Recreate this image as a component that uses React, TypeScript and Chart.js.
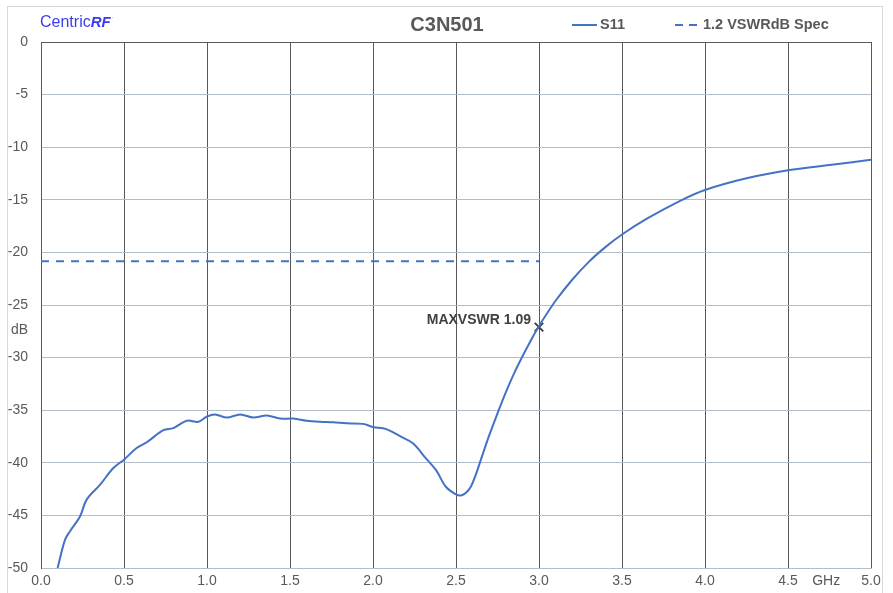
import React, { useEffect, useRef } from "react";
import { Chart, registerables } from "chart.js";

Chart.register(...registerables);

const TITLE = "C3N501";
const S11_LABEL = "S11";
const SPEC_LABEL = "1.2 VSWRdB Spec";
const MARK_LABEL = "MAXVSWR 1.09";
const Y_TITLE = "dB";
const X_TITLE = "GHz";
const X_TITLE_AT = 4.73;

const freqGHz = [
  0.1, 0.145, 0.175, 0.235, 0.275, 0.355, 0.436, 0.5, 0.576, 0.637, 0.737, 0.797,
  0.878, 0.948, 1.0, 1.048, 1.12, 1.2, 1.28, 1.36, 1.44, 1.52, 1.6, 1.68, 1.76,
  1.84, 1.94, 2.0, 2.08, 2.16, 2.24, 2.32, 2.38, 2.44, 2.5, 2.53, 2.56, 2.59, 2.62,
  2.65, 2.7, 2.75, 2.8, 2.85, 2.9, 2.95, 3.0, 3.1, 3.2, 3.3, 3.4, 3.5, 3.65, 3.85,
  4.0, 4.25, 4.5, 4.75, 5.0,
];
const s11dB = [
  -50.0, -47.3, -46.5, -45.1, -43.5, -42.1, -40.5, -39.7, -38.6, -38.05, -36.9, -36.7,
  -36.0, -36.1, -35.6, -35.4, -35.7, -35.4, -35.7, -35.5, -35.8, -35.8, -36.0, -36.1, -36.15,
  -36.25, -36.3, -36.6, -36.8, -37.45, -38.15, -39.6, -40.7, -42.3, -43.0, -43.1, -42.85, -42.25, -41.1,
  -39.7, -37.4, -35.3, -33.3, -31.5, -29.9, -28.4, -27.0, -24.6, -22.6, -20.9, -19.5, -18.3, -16.8, -15.1,
  -14.07, -12.96, -12.2, -11.7, -11.2,
];
const specFreq = [0, 3.0];
const specDB = [-20.83, -20.83];
const markFreq = [3.0];
const markDB = [-27.1];

const BLUE = "#4472C4";
const GRAY = "#595959";
const LIGHT = "#b3bdcc";

const decorPlugin = {
  id: "decor",
  beforeDraw(chart: any) {
    const ctx = chart.ctx;
    ctx.save();
    ctx.fillStyle = "#ffffff";
    ctx.fillRect(0, 0, chart.width, chart.height);
    ctx.restore();
  },
  afterDraw(chart: any) {
    const ctx = chart.ctx;
    const xs = chart.scales.x;
    const ys = chart.scales.y;
    ctx.save();
    // outer frame
    ctx.strokeStyle = "#d9d9d9";
    ctx.lineWidth = 1;
    ctx.strokeRect(7.5, 6.5, 875, 600);

    // logo
    ctx.textBaseline = "middle";
    ctx.textAlign = "left";
    ctx.fillStyle = "#3b3bee";
    ctx.font = "16px 'Liberation Sans', Arial, sans-serif";
    ctx.fillText("Centric", 40, 23);
    const w1 = ctx.measureText("Centric").width;
    ctx.font = "italic bold 15px 'Liberation Sans', Arial, sans-serif";
    ctx.fillText("RF", 40 + w1, 23);
    const w2 = ctx.measureText("RF").width;
    ctx.font = "6px 'Liberation Sans', Arial, sans-serif";
    ctx.fillText("\u00B7", 41 + w1 + w2, 17);

    // title
    ctx.fillStyle = GRAY;
    ctx.textAlign = "center";
    ctx.font = "bold 20px 'Liberation Sans', Arial, sans-serif";
    ctx.fillText(TITLE, 447, 25);

    // legend
    ctx.strokeStyle = BLUE;
    ctx.lineWidth = 2;
    ctx.beginPath();
    ctx.moveTo(572, 25);
    ctx.lineTo(597, 25);
    ctx.stroke();
    ctx.setLineDash([8, 6]);
    ctx.beginPath();
    ctx.moveTo(675, 25);
    ctx.lineTo(698, 25);
    ctx.stroke();
    ctx.setLineDash([]);
    ctx.textAlign = "left";
    ctx.font = "bold 14.5px 'Liberation Sans', Arial, sans-serif";
    ctx.fillText(S11_LABEL, 600, 25);
    ctx.fillText(SPEC_LABEL, 703, 25);

    // axis titles
    ctx.font = "14px 'Liberation Sans', Arial, sans-serif";
    ctx.textAlign = "right";
    ctx.fillText(Y_TITLE, 28, 330);
    ctx.textAlign = "center";
    ctx.fillText(X_TITLE, xs.getPixelForValue(X_TITLE_AT), 581);

    // marker label
    ctx.fillStyle = "#404040";
    ctx.textAlign = "right";
    ctx.font = "bold 14px 'Liberation Sans', Arial, sans-serif";
    ctx.fillText(MARK_LABEL, xs.getPixelForValue(markFreq[0]) - 8, ys.getPixelForValue(markDB[0]) - 7);
    ctx.restore();
  },
};

export default function App() {
  const ref = useRef<HTMLCanvasElement | null>(null);
  useEffect(() => {
    if (!ref.current) return;
    const chart = new Chart(ref.current, {
      type: "line",
      data: {
        datasets: [
          {
            label: S11_LABEL,
            data: freqGHz.map((f, i) => ({ x: f, y: s11dB[i] })),
            borderColor: BLUE,
            borderWidth: 2,
            pointRadius: 0,
            tension: 0.35,
            fill: false,
          },
          {
            label: SPEC_LABEL,
            data: specFreq.map((f, i) => ({ x: f, y: specDB[i] })),
            borderColor: BLUE,
            borderWidth: 2,
            borderDash: [8, 7],
            pointRadius: 0,
            fill: false,
          },
          {
            label: "mark",
            data: markFreq.map((f, i) => ({ x: f, y: markDB[i] })),
            showLine: false,
            pointStyle: "crossRot",
            pointRadius: 6,
            borderColor: "#404040",
            borderWidth: 2,
          },
        ],
      },
      options: {
        animation: false,
        responsive: false,
        devicePixelRatio: 1,
        layout: { padding: { top: 42, right: 22, left: 0, bottom: 0 } },
        plugins: {
          legend: { display: false },
          title: { display: false },
          tooltip: { enabled: false },
        },
        scales: {
          x: {
            type: "linear",
            min: 0,
            max: 5,
            afterFit: (s: any) => {
              s.height = 25;
            },
            ticks: {
              stepSize: 0.5,
              padding: 5,
              color: GRAY,
              font: { family: "'Liberation Sans', Arial", size: 14 },
              callback: (v: any) => Number(v).toFixed(1),
              maxRotation: 0,
              autoSkip: false,
            },
            grid: { color: GRAY, lineWidth: 1, drawTicks: false },
            border: { color: LIGHT, width: 1 },
          },
          y: {
            type: "linear",
            min: -50,
            max: 0,
            afterFit: (s: any) => {
              s.width = 41;
            },
            ticks: {
              stepSize: 5,
              padding: 13,
              color: GRAY,
              font: { family: "'Liberation Sans', Arial", size: 14 },
            },
            grid: {
              color: (c: any) => (c.tick && c.tick.value === 0 ? GRAY : LIGHT),
              lineWidth: 1,
              drawTicks: false,
            },
            border: { color: GRAY, width: 1 },
          },
        },
      },
      plugins: [decorPlugin],
    } as any);
    return () => chart.destroy();
  }, []);
  return (
    <div style={{ position: "fixed", left: 0, top: 0, width: 893, height: 593, background: "#fff" }}>
      <canvas ref={ref} width={893} height={593} style={{ width: 893, height: 593, display: "block" }} />
    </div>
  );
}
